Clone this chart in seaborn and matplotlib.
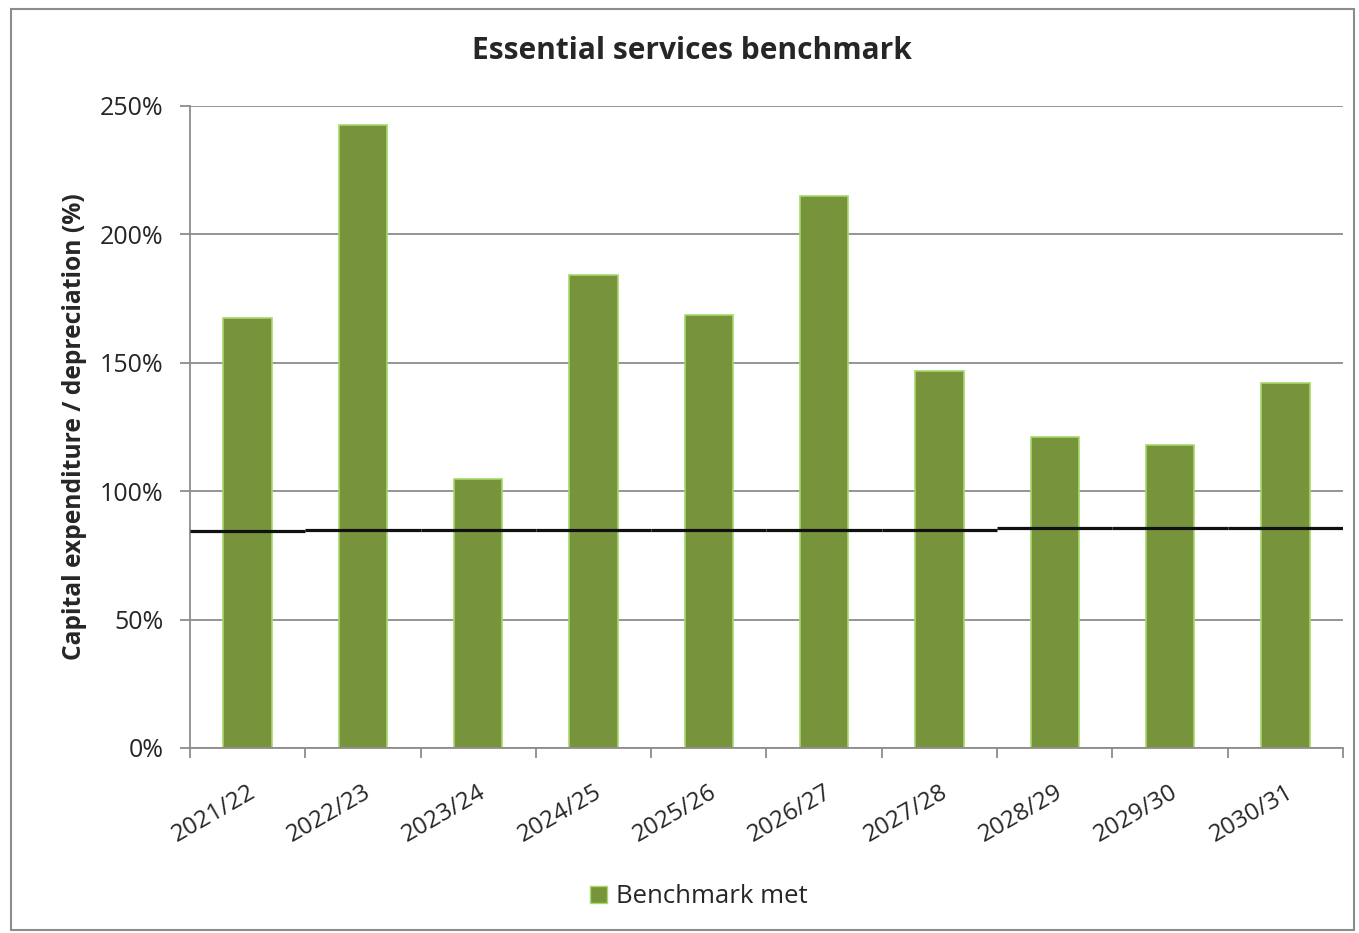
import numpy as np
import pandas as pd
import matplotlib
matplotlib.use('Agg')
import matplotlib.pyplot as plt
from matplotlib.patches import Rectangle, Patch
import seaborn as sns

# data
years = ['2021/22', '2022/23', '2023/24', '2024/25', '2025/26',
         '2026/27', '2027/28', '2028/29', '2029/30', '2030/31']
ratio = [167.5, 242.5, 104.8, 184.0, 168.5, 215.0, 146.8, 121.2, 118.0, 142.0]
benchmark = [84.4, 84.8, 84.8, 84.8, 85.0, 85.0, 85.0, 85.5, 85.5, 85.5]

df = pd.DataFrame({'year': years, 'ratio': ratio, 'benchmark': benchmark})

sns.set_theme(style='white')
plt.rcParams['font.family'] = ['Open Sans', 'DejaVu Sans']

fig = plt.figure(figsize=(13.59, 9.33), dpi=100)
ax = fig.add_axes([0.1398, 0.1983, 0.8484, 0.6881])

bar_green = '#77933C'
sns.barplot(data=df, x='year', y='ratio', color=bar_green, width=0.42,
            edgecolor='#A6D86A', linewidth=1.2, saturation=1, ax=ax, zorder=2)

# benchmark line, one short segment per year
for i, b in enumerate(df['benchmark']):
    ax.hlines(b, i - 0.5, i + 0.5, color='#111111', linewidth=2.3, zorder=3)

ax.set_xlim(-0.5, len(years) - 0.5)
ax.set_ylim(0, 250)
ax.set_yticks([0, 50, 100, 150, 200, 250])
ax.set_yticklabels([f'{v}%' for v in [0, 50, 100, 150, 200, 250]], fontsize=18)
ax.yaxis.grid(True, color='#8C8C8C', linewidth=1.3, zorder=0)
ax.set_axisbelow(True)

# ticks on category boundaries, labels on centres
ax.set_xticks(np.arange(len(years) + 1) - 0.5)
ax.set_xticklabels([])
ax.set_xticks(np.arange(len(years)), minor=True)
ax.set_xticklabels(years, minor=True, rotation=30, ha='right',
                   rotation_mode='anchor', fontsize=17.5)
ax.tick_params(axis='x', which='major', direction='out', length=7,
               width=1.3, color='#8C8C8C', bottom=True)
ax.tick_params(axis='x', which='minor', length=0, pad=23)
ax.tick_params(axis='y', direction='out', length=7, width=1.3,
               color='#8C8C8C', left=True, pad=12)

for s in ['top', 'right']:
    ax.spines[s].set_visible(False)
for s in ['left', 'bottom']:
    ax.spines[s].set_color('#8C8C8C')
    ax.spines[s].set_linewidth(1.3)

ax.set_xlabel('')
ax.set_ylabel('Capital expenditure / depreciation (%)', fontsize=17.7,
              fontweight='bold', labelpad=9)

fig.text(0.509, 0.945, 'Essential services benchmark', ha='center',
         va='center', fontsize=21.5, fontweight='bold')

fig.legend(handles=[Patch(facecolor=bar_green, edgecolor='#A6D86A')],
           labels=['Benchmark met'], loc='center', bbox_to_anchor=(0.514, 0.039),
           frameon=False, fontsize=18.5, handlelength=0.65, handleheight=0.65,
           handletextpad=0.35)

# outer chart frame
fig.patches.append(Rectangle((0.008, 0.003), 0.988, 0.987, transform=fig.transFigure,
                             fill=False, edgecolor='#8C8C8C', linewidth=1.5))

fig.savefig('out.png', dpi=100)
